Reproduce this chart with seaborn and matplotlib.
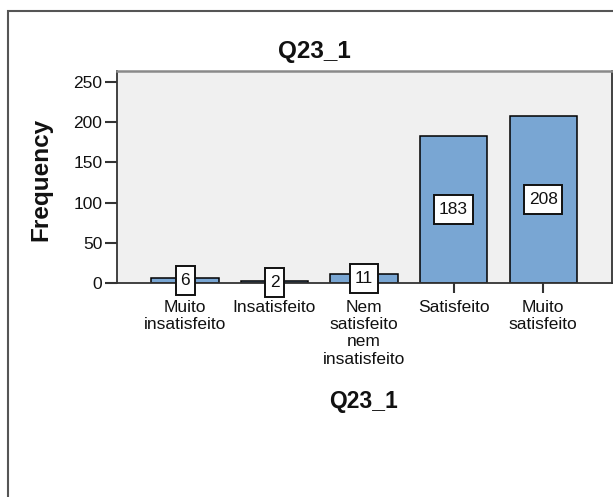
import matplotlib
matplotlib.use("Agg")
import matplotlib.pyplot as plt
from matplotlib.patches import Rectangle
from matplotlib.path import Path
import seaborn as sns
import pandas as pd

# Response categories and counts for Q23_1
categories = [
    "Muito\ninsatisfeito",
    "Insatisfeito",
    "Nem\nsatisfeito\nnem\ninsatisfeito",
    "Satisfeito",
    "Muito\nsatisfeito",
]
counts = [6, 2, 11, 183, 208]
y_ticks = [0, 50, 100, 150, 200, 250]

df = pd.DataFrame({"Q23_1": categories, "Frequency": counts})

sns.set_style("white")
plt.rcParams["font.family"] = ["Liberation Sans", "DejaVu Sans"]


def label_box(x0, y0, width, height, mutation_size):
    """Rectangular box with a wider vertical than horizontal margin."""
    hp, vp = 0.27 * mutation_size, 0.40 * mutation_size
    x0, x1 = x0 - hp, x0 + width + hp
    y0, y1 = y0 - vp, y0 + height + vp
    return Path([(x0, y0), (x1, y0), (x1, y1), (x0, y1), (x0, y0)], closed=True)


W, H = 613, 497
fig = plt.figure(figsize=(W / 100, H / 100), dpi=100)
fig.patch.set_facecolor("white")

# plot area in pixel coordinates
left, right, top, bottom = 117, 612, 71, 283
ax = fig.add_axes([left / W, 1 - bottom / H, (right - left) / W, (bottom - top) / H])
ax.set_facecolor("#F0F0F0")

sns.barplot(
    data=df, x="Q23_1", y="Frequency", ax=ax,
    color="#79A6D3", saturation=1, width=0.75,
    edgecolor="black", linewidth=1.1,
)

for container in ax.containers:
    ax.bar_label(
        container, labels=[str(v) for v in counts], label_type="center",
        fontsize=12.5, color="#111111",
        bbox=dict(boxstyle=label_box, facecolor="white",
                  edgecolor="#111111", linewidth=1.4),
    )

ax.set_xlim(-0.76, 4.77)
ax.set_ylim(0, 263.75)
ax.set_yticks(y_ticks)

ax.tick_params(axis="y", direction="out", length=9, width=1.5, pad=1.5,
               labelsize=12.5, colors="#333333", labelcolor="#111111", left=True)
ax.tick_params(axis="x", direction="out", length=7.5, width=1.5, pad=4.5,
               labelsize=12.5, colors="#333333", labelcolor="#111111", bottom=True)
for lbl in ax.get_xticklabels():
    lbl.set_linespacing(1.2)

for side in ["left", "right", "bottom"]:
    ax.spines[side].set_color("#333333")
    ax.spines[side].set_linewidth(1.3)
ax.spines["top"].set_color("#8A8A8A")
ax.spines["top"].set_linewidth(1.8)

ax.set_xlabel("Q23_1", fontsize=16.5, fontweight="bold", color="#111111")
ax.xaxis.set_label_coords(0.497, -0.505)
ax.xaxis.label.set_verticalalignment("top")
ax.set_ylabel("Frequency", fontsize=17.5, fontweight="bold", color="#111111")
ax.yaxis.set_label_coords(-0.13, 0.49)

fig.text(314 / W, 1 - 58 / H, "Q23_1", ha="center", va="baseline",
         fontsize=17.5, fontweight="bold", color="#111111")

# chart frame, open towards the right and bottom edges
fig.patches.append(Rectangle((8 / W, -0.2), 1.2, 1.2 - 11 / H,
                             transform=fig.transFigure, fill=False,
                             edgecolor="#555555", linewidth=1.5))

fig.savefig("out.png", dpi=100)
